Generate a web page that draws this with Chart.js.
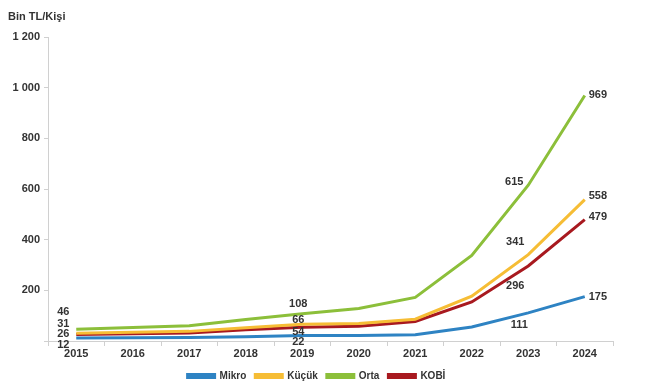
<!DOCTYPE html>
<html>
<head>
<meta charset="utf-8">
<script src="https://cdn.jsdelivr.net/npm/chart.js@4"></script>
<style>
html,body{margin:0;padding:0;background:#fff;}
#wrap{width:649px;height:390px;position:relative;}
</style>
</head>
<body>
<div id="wrap"><canvas id="c" width="649" height="390"></canvas></div>
<script>
const years = ['2015','2016','2017','2018','2019','2020','2021','2022','2023','2024'];
const mikro = [12, 13, 14, 17, 22, 22, 25, 55, 111, 175];
const kucuk = [31, 35, 38, 52, 66, 69, 86, 177, 341, 558];
const orta  = [46, 53, 60, 85, 108, 128, 172, 338, 615, 969];
const kobi  = [26, 29, 32, 44, 54, 58, 77, 154, 296, 479];
const seriesNames = ['Mikro', 'Küçük', 'Orta', 'KOBİ'];
const labeledYears = ['2015', '2019', '2023', '2024'];
const yTitle = 'Bin TL/Kişi';

const colors = ['#2E83C3', '#F6BD35', '#8CBF3A', '#A8191F'];
// label offsets (dx, dy) per series for each labeled year index
const labelOffsets = {
  0: [[-13, 7], [-4, 7], [-9, 12], [13, 0]],
  1: [[-13, -9], [-4, -4], [-13, -13], [13, -4]],
  2: [[-13, -17], [-4, -10], [-14, -3], [13, -1]],
  3: [[-13, 0], [-4, 5], [-13, 20], [13, -3]]
};

const fontFamily = '"Liberation Sans", Arial, sans-serif';

const labelPlugin = {
  id: 'valueLabels',
  afterLayout(chart) {
    if (chart.legend) {
      chart.legend.left += 10;
      chart.legend.right += 10;
    }
  },
  afterDatasetsDraw(chart) {
    const ctx = chart.ctx;
    ctx.save();
    ctx.font = 'bold 11px ' + fontFamily;
    ctx.fillStyle = '#333333';
    ctx.textBaseline = 'middle';
    chart.data.datasets.forEach((ds, di) => {
      const meta = chart.getDatasetMeta(di);
      labeledYears.forEach((yr, k) => {
        const idx = years.indexOf(yr);
        const pt = meta.data[idx];
        const off = labelOffsets[di][k];
        const text = String(ds.data[idx]);
        ctx.textAlign = k === 3 ? 'left' : 'center';
        const dx = k === 3 ? off[0] - 9 : off[0];
        ctx.fillText(text, pt.x + dx, pt.y + off[1]);
      });
    });
    // y axis unit title
    ctx.textAlign = 'left';
    ctx.fillText(yTitle, 8, 17);
    ctx.restore();
  }
};

const datasets = [mikro, kucuk, orta, kobi].map((d, i) => ({
  label: seriesNames[i],
  data: d,
  borderColor: colors[i],
  backgroundColor: colors[i],
  borderWidth: 3,
  pointRadius: 0,
  pointHoverRadius: 0,
  tension: 0,
  fill: false
}));

new Chart(document.getElementById('c'), {
  type: 'line',
  data: { labels: years, datasets },
  options: {
    responsive: false,
    animation: false,
    devicePixelRatio: 1,
    layout: { padding: { left: 0, right: 36, top: 37, bottom: -1 } },
    plugins: {
      legend: {
        position: 'bottom',
        labels: {
          boxWidth: 27,
          boxHeight: 3,
          padding: 9,
          color: '#333333',
          font: { family: fontFamily, size: 10, weight: 'bold' }
        }
      },
      tooltip: { enabled: false }
    },
    scales: {
      x: {
        offset: true,
        grid: { offset: true, drawOnChartArea: false, drawTicks: true, tickLength: 5, color: '#d0d0d0' },
        border: { color: '#d0d0d0' },
        ticks: { color: '#333333', font: { family: fontFamily, size: 11, weight: 'bold' }, padding: 1, maxRotation: 0 },
        afterFit(s) { s.height = 21; }
      },
      y: {
        min: 0, max: 1200,
        grid: { drawOnChartArea: false, drawTicks: true, tickLength: 4, color: '#d0d0d0' },
        border: { color: '#d0d0d0' },
        ticks: {
          stepSize: 200,
          color: '#333333',
          padding: 4,
          font: { family: fontFamily, size: 11, weight: 'bold' },
          callback(v) { return v === 0 ? '' : String(v).replace(/\B(?=(\d{3})+(?!\d))/g, ' '); }
        },
        afterFit(s) { s.width = 48; }
      }
    }
  },
  plugins: [labelPlugin]
});
</script>
</body>
</html>
